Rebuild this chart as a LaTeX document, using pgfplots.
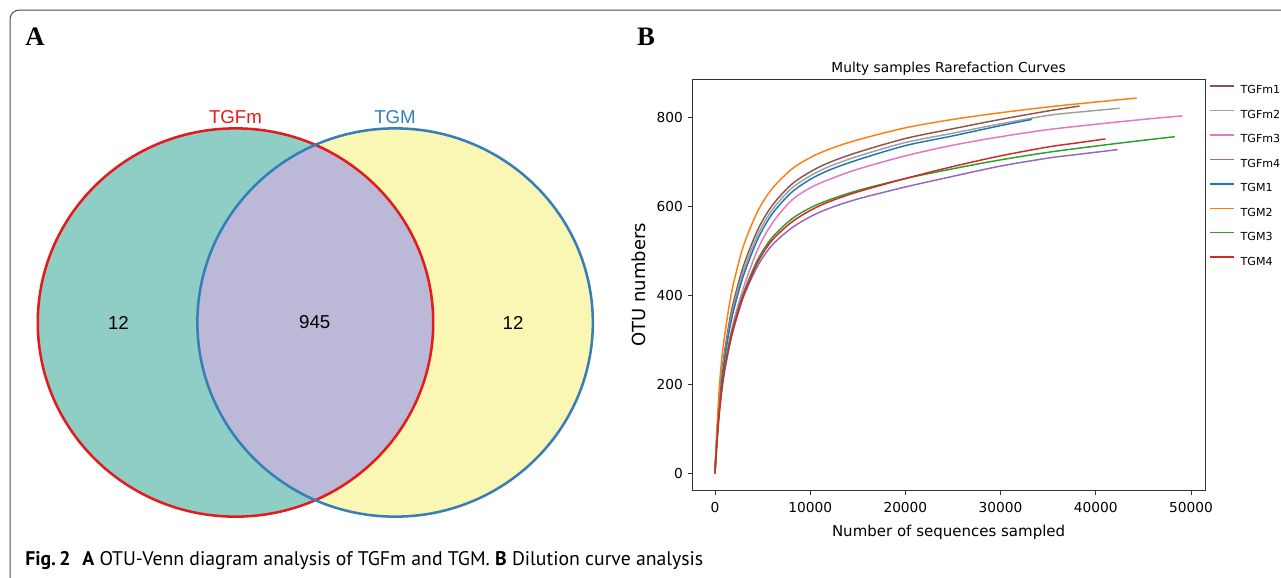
\documentclass[border=0pt]{standalone}
\usepackage{pgfplots}
\pgfplotsset{compat=1.18}
\usepackage{fontspec}
\setmainfont{DejaVu Sans}
\newfontfamily\arialf{Liberation Sans}
\newfontfamily\timesf{Liberation Serif}
\newfontfamily\capf{PT Sans}

% matplotlib tab10
\definecolor{tabblue}{HTML}{1F77B4}
\definecolor{taborange}{HTML}{FF7F0E}
\definecolor{tabgreen}{HTML}{2CA02C}
\definecolor{tabred}{HTML}{D62728}
\definecolor{tabpurple}{HTML}{9467BD}
\definecolor{tabbrown}{HTML}{8C564B}
\definecolor{tabpink}{HTML}{E377C2}
\definecolor{tabgray}{HTML}{A0A0A0}
% venn colours
\definecolor{vteal}{HTML}{8FCEC4}
\definecolor{vyellow}{HTML}{FAF7B4}
\definecolor{vlav}{HTML}{BCB9D8}
\definecolor{vred}{HTML}{E41A1C}
\definecolor{vblue}{HTML}{377EB8}

\begin{document}
\begin{tikzpicture}[x=0.75pt,y=-0.75pt]
\useasboundingbox (0,0) rectangle (1281,578);
\fill[white] (0,0) rectangle (1281,578);
\draw[black!70, line width=0.75pt, rounded corners=7pt] (10,600) -- (10,10) -- (1300,10);

\node[font=\timesf\bfseries\fontsize{20}{24}\selectfont] at (35,37) {A};
\node[font=\timesf\bfseries\fontsize{20}{24}\selectfont] at (646,37) {B};

\node[anchor=west, inner sep=0pt, font=\capf\fontsize{14.8}{17}\selectfont] at (25,561)
  {\textbf{Fig.\,2}\hspace{0.6em}\textbf{A} OTU-Venn diagram analysis of TGFm and TGM. \textbf{B} Dilution curve analysis};

% ---- A: Venn diagram (axis units = pixels)
\begin{axis}[at={(0pt,-433.5pt)}, anchor=south west, scale only axis,
  width=480pt, height=433.5pt,
  xmin=0, xmax=640, ymin=0, ymax=578, y dir=reverse,
  hide axis, clip=false]
\fill[vteal] (axis cs:235.5,322.5) ellipse [x radius=148.3pt, y radius=145.6pt];
\fill[vyellow] (axis cs:395.1,322.5) ellipse [x radius=148.3pt, y radius=145.6pt];
\begin{scope}
\clip (axis cs:235.5,322.5) ellipse [x radius=148.3pt, y radius=145.6pt];
\fill[vlav] (axis cs:395.1,322.5) ellipse [x radius=148.3pt, y radius=145.6pt];
\end{scope}
\draw[vred, line width=1.9pt] (axis cs:235.5,322.5) ellipse [x radius=148.3pt, y radius=145.6pt];
\draw[vblue, line width=1.9pt] (axis cs:395.1,322.5) ellipse [x radius=148.3pt, y radius=145.6pt];
\node[font=\arialf\fontsize{14}{16}\selectfont, text=vred] at (axis cs:235.5,117.2) {TGFm};
\node[font=\arialf\fontsize{14}{16}\selectfont, text=vblue] at (axis cs:395,117.2) {TGM};
\node[font=\arialf\fontsize{14}{16}\selectfont] at (axis cs:118.4,322.5) {12};
\node[font=\arialf\fontsize{14}{16}\selectfont] at (axis cs:314.7,322.5) {945};
\node[font=\arialf\fontsize{14}{16}\selectfont] at (axis cs:513,322.5) {12};
\end{axis}

% ---- B: rarefaction curves
\begin{axis}[at={(519.2pt,-368.0pt)}, anchor=south west, scale only axis,
  width=384.5pt, height=308.8pt,
  xmin=-2384, xmax=51470, ymin=-39, ymax=887,
  xtick={0,10000,20000,30000,40000,50000},
  ytick={0,200,400,600,800},
  scaled x ticks=false,
  /pgf/number format/1000 sep={},
  /pgf/number format/assume math mode=true,
  tick pos=left, tick align=outside, major tick length=3.5pt,
  axis line style={black!80, line width=0.6pt},
  tick style={black!80, line width=0.6pt},
  ticklabel style={font=\fontsize{10.3}{12}\selectfont},
  xticklabel style={yshift=-1.9pt},
  title={Multy samples Rarefaction Curves},
  title style={font=\fontsize{10.3}{12}\selectfont, at={(0.5,1)}, anchor=south, inner sep=0pt, yshift=-3.8pt},
  xlabel={Number of sequences sampled},
  ylabel={OTU numbers},
  xlabel style={font=\fontsize{11.25}{13}\selectfont, at={(axis description cs:0.5,-0.1007)}, anchor=center},
  ylabel style={font=\fontsize{13.5}{15}\selectfont, at={(axis description cs:-0.1053,0.5)}, anchor=center},
  legend style={at={(rel axis cs:1,1)}, anchor=north west, xshift=3pt, yshift=-4.5pt,
    draw=none, fill=none, inner sep=0pt, row sep=11.8pt, column sep=4.5pt,
    font=\fontsize{8.3}{10}\selectfont,
    nodes={inner sep=0pt, text height=6pt, text depth=0pt, anchor=west}},
  legend cell align=left,
  legend image code/.code={\draw[#1] (0pt,3pt) -- (18pt,3pt);},
  every axis plot/.append style={line width=1.1pt, smooth, tension=0.5},
]
% TGFm1
\addplot[tabbrown] coordinates {
(0,0) (150,65) (400,152) (700,225) (1000,272) (1500,340) (2000,390) (3000,467)
(4500,548) (6000,602) (8000,649) (10000,678) (12000,699) (15000,722) (20000,753)
(25000,775) (30000,796) (35000,815) (38300,826)};
% TGFm2
\addplot[tabgray] coordinates {
(0,0) (150,62) (400,146) (700,216) (1000,263) (1500,330) (2000,379) (3000,455)
(4500,537) (6000,592) (8000,640) (10000,669) (12000,690) (15000,713) (20000,744)
(25000,765) (30000,786) (35000,805) (38000,812) (42500,821)};
% TGFm3
\addplot[tabpink] coordinates {
(0,0) (150,58) (400,135) (700,196) (1000,236) (1500,297) (2000,345) (3000,418)
(4500,504) (6000,562) (8000,613) (10000,642) (12000,661) (15000,684) (20000,714)
(25000,738) (30000,757) (35000,773) (40000,785) (45000,796) (49100,804)};
% TGFm4
\addplot[tabpurple] coordinates {
(0,0) (150,52) (400,122) (700,183) (1000,229) (1500,284) (2000,328) (3000,397)
(4500,467) (6000,513) (8000,551) (10000,577) (12000,596) (15000,617) (20000,644)
(25000,668) (30000,691) (35000,709) (38000,717) (42300,728)};
% TGM1
\addplot[tabblue] coordinates {
(0,0) (150,60) (400,140) (700,208) (1000,255) (1500,321) (2000,370) (3000,445)
(4500,527) (6000,583) (8000,631) (10000,661) (12000,682) (15000,705) (20000,737)
(25000,759) (30000,782) (33300,796)};
% TGM2
\addplot[taborange] coordinates {
(0,0) (150,72) (400,175) (700,255) (1000,307) (1500,378) (2000,432) (3000,512)
(4500,590) (6000,640) (8000,683) (10000,710) (12000,729) (15000,750) (20000,777)
(25000,796) (30000,811) (35000,824) (40000,835) (44300,844)};
% TGM3
\addplot[tabgreen] coordinates {
(0,0) (150,55) (400,128) (700,190) (1000,236) (1500,293) (2000,337) (3000,406)
(4500,481) (6000,530) (8000,571) (10000,597) (12000,615) (15000,636) (20000,663)
(25000,685) (30000,705) (35000,722) (40000,736) (45000,749) (48300,757)};
% TGM4
\addplot[tabred] coordinates {
(0,0) (150,53) (400,124) (700,186) (1000,231) (1500,287) (2000,331) (3000,400)
(4500,475) (6000,524) (8000,564) (10000,591) (12000,611) (15000,633) (20000,663)
(25000,690) (30000,714) (35000,734) (38000,743) (41000,752)};
\legend{TGFm1,TGFm2,TGFm3,TGFm4,TGM1,TGM2,TGM3,TGM4}
\end{axis}
\end{tikzpicture}
\end{document}
